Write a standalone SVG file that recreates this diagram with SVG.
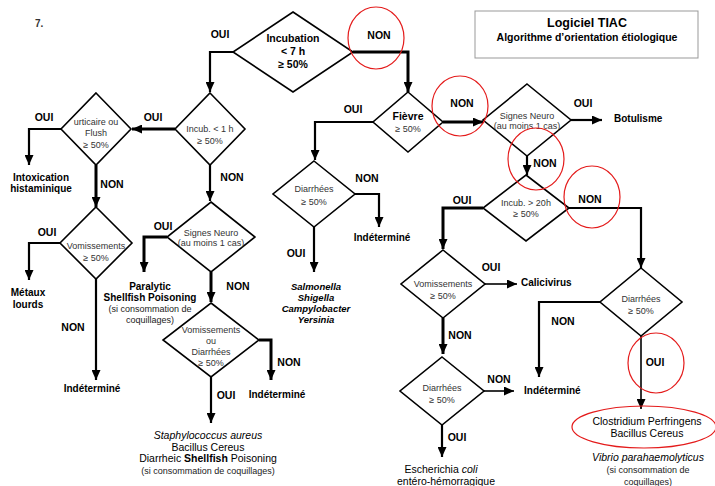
<svg xmlns="http://www.w3.org/2000/svg" width="715" height="486" viewBox="0 0 715 486">
<style>
text{font-family:"Liberation Sans",Arial,sans-serif;fill:#000}
.d{fill:#fff;stroke:#000;stroke-width:1.6}
.dt{font-size:9px;fill:#333;text-anchor:middle}
.db{font-size:10.5px;font-weight:bold;text-anchor:middle}
.lb{font-size:10.5px;font-weight:bold;text-anchor:middle}
.r{font-size:10px;font-weight:bold}
.rm{font-size:10px;font-weight:bold;text-anchor:middle}
.rn{font-size:10.5px;text-anchor:middle}
.sm{font-size:9px;text-anchor:middle;fill:#222}
.c{fill:none;stroke:#000;stroke-width:2.2;marker-end:url(#a)}
.t{fill:none;stroke:#000;stroke-width:3;marker-end:url(#a)}
.n{fill:none;stroke:#000;stroke-width:1.6;marker-end:url(#a)}
.red{fill:none;stroke:#e41b1b;stroke-width:1.2}
</style>
<defs>
<marker id="a" markerUnits="userSpaceOnUse" markerWidth="10" markerHeight="9" refX="10" refY="4.5" orient="auto">
<path d="M0,0 L10,4.5 L0,9 z" fill="#000"/>
</marker>
</defs>
<rect width="715" height="486" fill="#fff"/>
<text x="35" y="27" style="font-size:10px;font-weight:bold;fill:#333">7.</text>
<g id="title">
<rect x="475" y="11" width="223" height="47" fill="#fff" stroke="#999" stroke-width="1"/>
<text x="587" y="27" style="font-size:12.5px;font-weight:bold;text-anchor:middle">Logiciel TIAC</text>
<text x="587" y="41" style="font-size:10.5px;font-weight:bold;text-anchor:middle">Algorithme d’orientation étiologique</text>
</g>
<g id="connectors">
<path class="c" d="M233,52 H210 V92"/>
<path class="t" d="M353,52 H408 V92"/>
<path class="t" d="M175,129 H132"/>
<path class="c" d="M61,129 H29 V165"/>
<path class="t" d="M96,165 V207"/>
<path class="c" d="M60,243 H29 V280"/>
<path class="c" d="M96,279 V380"/>
<path class="c" d="M210,165 V201"/>
<path class="t" d="M167,237 H144 V272"/>
<path class="t" d="M211,272 V302"/>
<path class="t" d="M259,340 H271 V380"/>
<path class="c" d="M211,377 V423"/>
<path class="c" d="M373,122 H315 V160"/>
<path class="c" d="M355,194 H379 V227"/>
<path class="c" d="M314,227 V272"/>
<path class="t" d="M443,122 H483"/>
<path class="c" d="M571,120 H602"/>
<path class="c" d="M527,156 V175"/>
<path class="t" d="M483,208 H443 V249"/>
<path class="c" d="M569,208 H641 V268"/>
<path class="n" d="M485,284 H517"/>
<path class="t" d="M443,318 V354"/>
<path class="n" d="M484,391 H514"/>
<path class="c" d="M442,425 V457"/>
<path class="c" d="M600,302 H539 V377"/>
<path class="n" d="M641,336 V409"/>
<text class="lb" x="220" y="38">OUI</text>
<text class="lb" x="379" y="39">NON</text>
<text class="lb" x="153" y="121">OUI</text>
<text class="lb" x="44" y="121">OUI</text>
<text class="lb" x="112" y="188">NON</text>
<text class="lb" x="47" y="236">OUI</text>
<text class="lb" x="73" y="331">NON</text>
<text class="lb" x="232" y="181">NON</text>
<text class="lb" x="163" y="230">OUI</text>
<text class="lb" x="238" y="290">NON</text>
<text class="lb" x="289" y="366">NON</text>
<text class="lb" x="226" y="399">OUI</text>
<text class="lb" x="353" y="113">OUI</text>
<text class="lb" x="367" y="182">NON</text>
<text class="lb" x="296" y="257">OUI</text>
<text class="lb" x="462" y="107">NON</text>
<text class="lb" x="583" y="107">OUI</text>
<text class="lb" x="545" y="167">NON</text>
<text class="lb" x="462" y="204">OUI</text>
<text class="lb" x="590" y="203">NON</text>
<text class="lb" x="491" y="271">OUI</text>
<text class="lb" x="460" y="339">NON</text>
<text class="lb" x="499" y="383">NON</text>
<text class="lb" x="457" y="441">OUI</text>
<text class="lb" x="563" y="325">NON</text>
<text class="lb" x="655" y="366">OUI</text>
</g>
<g id="n1">
<polygon class="d" points="293,12 353,52 293,92 233,52"/>
<text class="db" x="293" y="42">Incubation</text>
<text class="db" x="293" y="55">&lt; 7 h</text>
<text class="db" x="293" y="68">≥ 50%</text>
</g>
<g id="n2">
<polygon class="d" points="210,93 245,129 210,165 175,129"/>
<text class="dt" x="210" y="132">Incub. &lt; 1 h</text>
<text class="dt" x="210" y="144">≥ 50%</text>
</g>
<g id="n3">
<polygon class="d" points="96,93 131,129 96,165 61,129"/>
<text class="dt" x="96" y="125">urticaire ou</text>
<text class="dt" x="96" y="136">Flush</text>
<text class="dt" x="96" y="148">≥ 50%</text>
</g>
<g id="r1">
<text class="rm" x="41" y="181">Intoxication</text>
<text class="rm" x="41" y="192">histaminique</text>
</g>
<g id="n4">
<polygon class="d" points="96,207 132,243 96,279 60,243"/>
<text class="dt" x="96" y="249">Vomissements</text>
<text class="dt" x="96" y="261">≥ 50%</text>
</g>
<g id="r2">
<text class="rm" x="28" y="296">Métaux</text>
<text class="rm" x="28" y="308">lourds</text>
</g>
<g id="r3"><text class="rm" x="92" y="392">Indéterminé</text></g>
<g id="n5">
<polygon class="d" points="211,202 255,237 211,272 167,237"/>
<text class="dt" x="211" y="236">Signes Neuro</text>
<text class="dt" x="211" y="246">(au moins 1 cas)</text>
</g>
<g id="r4">
<text class="rm" x="150" y="290">Paralytic</text>
<text class="rm" x="150" y="301">Shellfish Poisoning</text>
<text class="sm" x="150" y="312">(si consommation de</text>
<text class="sm" x="150" y="323">coquillages)</text>
</g>
<g id="n6">
<polygon class="d" points="211,303 259,340 211,377 163,340"/>
<text class="dt" x="211" y="333">Vomissements</text>
<text class="dt" x="211" y="344">ou</text>
<text class="dt" x="211" y="355">Diarrhées</text>
<text class="dt" x="211" y="366">≥ 50%</text>
</g>
<g id="r5"><text class="rm" x="277" y="398">Indéterminé</text></g>
<g id="r6">
<text class="rn" x="208" y="439" font-style="italic">Staphylococcus aureus</text>
<text class="rn" x="208" y="451">Bacillus Cereus</text>
<text class="rn" x="208" y="462">Diarrheic <tspan font-weight="bold">Shellfish</tspan> Poisoning</text>
<text class="sm" x="208" y="474">(si consommation de coquillages)</text>
</g>
<g id="n7">
<polygon class="d" points="408,92 443,122 408,152 373,122"/>
<text class="db" x="408" y="120">Fièvre</text>
<text class="dt" x="408" y="132">≥ 50%</text>
</g>
<g id="n8">
<polygon class="d" points="314,161 355,194 314,227 273,194"/>
<text class="dt" x="314" y="192">Diarrhées</text>
<text class="dt" x="314" y="205">≥ 50%</text>
</g>
<g id="r7"><text class="rm" x="382" y="241">Indéterminé</text></g>
<g id="r8">
<text x="316" y="290" style="font-size:9.5px;font-weight:bold;font-style:italic;text-anchor:middle">Salmonella</text>
<text x="316" y="301" style="font-size:9.5px;font-weight:bold;font-style:italic;text-anchor:middle">Shigella</text>
<text x="316" y="312" style="font-size:9.5px;font-weight:bold;font-style:italic;text-anchor:middle">Campylobacter</text>
<text x="316" y="323" style="font-size:9.5px;font-weight:bold;font-style:italic;text-anchor:middle">Yersinia</text>
</g>
<g id="n9">
<polygon class="d" points="527,84 571,120 527,156 483,120"/>
<text class="dt" x="527" y="119">Signes Neuro</text>
<text class="dt" x="527" y="129">(au moins 1 cas)</text>
</g>
<g id="r9"><text class="r" x="614" y="122">Botulisme</text></g>
<g id="n10">
<polygon class="d" points="526,175 569,208 526,241 483,208"/>
<text class="dt" x="526" y="206">Incub. &gt; 20h</text>
<text class="dt" x="526" y="217">≥ 50%</text>
</g>
<g id="n11">
<polygon class="d" points="443,250 485,284 443,318 401,284"/>
<text class="dt" x="443" y="287">Vomissements</text>
<text class="dt" x="443" y="299">≥ 50%</text>
</g>
<g id="r10"><text class="r" x="521" y="286">Calicivirus</text></g>
<g id="n12">
<polygon class="d" points="442,357 484,391 442,425 400,391"/>
<text class="dt" x="442" y="391">Diarrhées</text>
<text class="dt" x="442" y="403">≥ 50%</text>
</g>
<g id="r11"><text class="r" x="524" y="394">Indéterminé</text></g>
<g id="r12">
<text class="rn" x="441" y="473">Escherichia <tspan font-style="italic">coli</tspan></text>
<text class="rn" x="446" y="485">entéro-hémorragique</text>
</g>
<g id="n13">
<polygon class="d" points="641,268 682,302 641,336 600,302"/>
<text class="dt" x="641" y="302">Diarrhées</text>
<text class="dt" x="641" y="314">≥ 50%</text>
</g>
<g id="r13">
<text class="rn" x="647" y="425">Clostridium Perfringens</text>
<text class="rn" x="647" y="437">Bacillus Cereus</text>
<text class="rn" x="648" y="461" font-style="italic">Vibrio parahaemolyticus</text>
<text class="sm" x="648" y="473">(si consommation de</text>
<text class="sm" x="648" y="485">coquillages)</text>
</g>
<g id="highlights">
<ellipse class="red" cx="376" cy="38" rx="28" ry="31"/>
<ellipse class="red" cx="460" cy="106" rx="28" ry="30"/>
<ellipse class="red" cx="536" cy="159" rx="28" ry="31"/>
<ellipse class="red" cx="592" cy="197" rx="28" ry="31"/>
<ellipse class="red" cx="656" cy="363" rx="28" ry="30"/>
<ellipse class="red" cx="644" cy="427" rx="72" ry="21"/>
</g>
</svg>
